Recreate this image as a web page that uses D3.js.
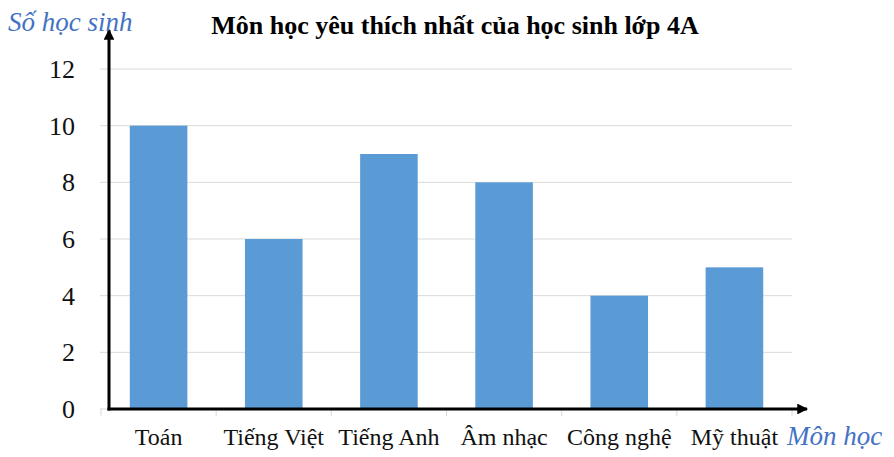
<!DOCTYPE html>
<html>
<head>
<meta charset="utf-8">
<script src="https://cdn.jsdelivr.net/npm/d3@7"></script>
<style>
  body { margin: 0; background: #fff; }
  text { font-family: "Liberation Serif", "Times New Roman", serif; }
</style>
</head>
<body>
<script>
//Data
var subjects = ["Toán", "Tiếng Việt", "Tiếng Anh", "Âm nhạc", "Công nghệ", "Mỹ thuật"];
var students = [10, 6, 9, 8, 4, 5];
var yTicks = [0, 2, 4, 6, 8, 10, 12];

//Width and height
var w = 894;
var h = 457;

var svg = d3.select("body")
			.append("svg")
			.attr("width", w)
			.attr("height", h)
			.attr("font-family", "'Liberation Serif', 'Times New Roman', serif");

//Scales
var x = d3.scaleBand()
		  .domain(subjects)
		  .range([101, 792])
		  .paddingInner(0.5)
		  .paddingOuter(0.25);

var y = d3.scaleLinear()
		  .domain([0, 12])
		  .range([409, 69]);

//Gridlines
svg.append("g")
   .selectAll("line")
   .data(yTicks)
   .enter()
   .append("line")
   .attr("x1", 100)
   .attr("x2", 792)
   .attr("y1", function(d) { return y(d); })
   .attr("y2", function(d) { return y(d); })
   .attr("stroke", "#d9d9d9")
   .attr("stroke-width", 1);

//Category tick marks at band edges
var edges = subjects.map(function(d) { return x(d) - x.step() * x.paddingInner() / 2; });
edges.push(x.range()[1]);
svg.append("g")
   .selectAll("line")
   .data(edges)
   .enter()
   .append("line")
   .attr("x1", function(d) { return d; })
   .attr("x2", function(d) { return d; })
   .attr("y1", y(0))
   .attr("y2", y(0) + 7)
   .attr("stroke", "#d9d9d9")
   .attr("stroke-width", 1);

//Bars
svg.append("g")
   .selectAll("rect")
   .data(students)
   .enter()
   .append("rect")
   .attr("x", function(d, i) { return x(subjects[i]); })
   .attr("y", function(d) { return y(d); })
   .attr("width", x.bandwidth())
   .attr("height", function(d) { return y(0) - y(d); })
   .attr("fill", "#5b9bd5");

//Y tick labels
svg.append("g")
   .selectAll("text")
   .data(yTicks)
   .enter()
   .append("text")
   .attr("x", 75)
   .attr("y", function(d) { return y(d); })
   .attr("dy", "0.35em")
   .attr("text-anchor", "end")
   .attr("font-size", 26)
   .attr("fill", "#111")
   .text(function(d) { return d; });

//Category labels
svg.append("g")
   .selectAll("text")
   .data(subjects)
   .enter()
   .append("text")
   .attr("x", function(d) { return x(d) + x.bandwidth() / 2; })
   .attr("y", 445)
   .attr("text-anchor", "middle")
   .attr("font-size", 24)
   .attr("fill", "#111")
   .text(function(d) { return d; });

//Arrow axes
var defs = svg.append("defs");
defs.append("marker")
	.attr("id", "arrow")
	.attr("viewBox", "0 0 10 10")
	.attr("refX", 9)
	.attr("refY", 5)
	.attr("markerWidth", 4.3)
	.attr("markerHeight", 3.6)
	.attr("markerUnits", "strokeWidth")
	.attr("orient", "auto")
	.append("path")
	.attr("d", "M0,0 L10,5 L0,10 Z")
	.attr("fill", "#000");

var ax0 = 109;
svg.append("line")
   .attr("x1", ax0).attr("y1", y(0) + 1.5)
   .attr("x2", ax0).attr("y2", 30)
   .attr("stroke", "#000").attr("stroke-width", 3)
   .attr("marker-end", "url(#arrow)");
svg.append("line")
   .attr("x1", ax0 - 1.5).attr("y1", y(0))
   .attr("x2", 807).attr("y2", y(0))
   .attr("stroke", "#000").attr("stroke-width", 3)
   .attr("marker-end", "url(#arrow)");

//Axis titles
svg.append("text")
   .attr("x", 8)
   .attr("y", 31)
   .attr("font-size", 27)
   .attr("font-style", "italic")
   .attr("fill", "#4472c4")
   .text("Số học sinh");

svg.append("text")
   .attr("x", 787)
   .attr("y", 445)
   .attr("font-size", 27)
   .attr("font-style", "italic")
   .attr("fill", "#4472c4")
   .text("Môn học");

//Chart title
svg.append("text")
   .attr("x", 455)
   .attr("y", 34)
   .attr("text-anchor", "middle")
   .attr("font-size", 26)
   .attr("font-weight", "bold")
   .attr("fill", "#000")
   .text("Môn học yêu thích nhất của học sinh lớp 4A");
</script>
</body>
</html>
